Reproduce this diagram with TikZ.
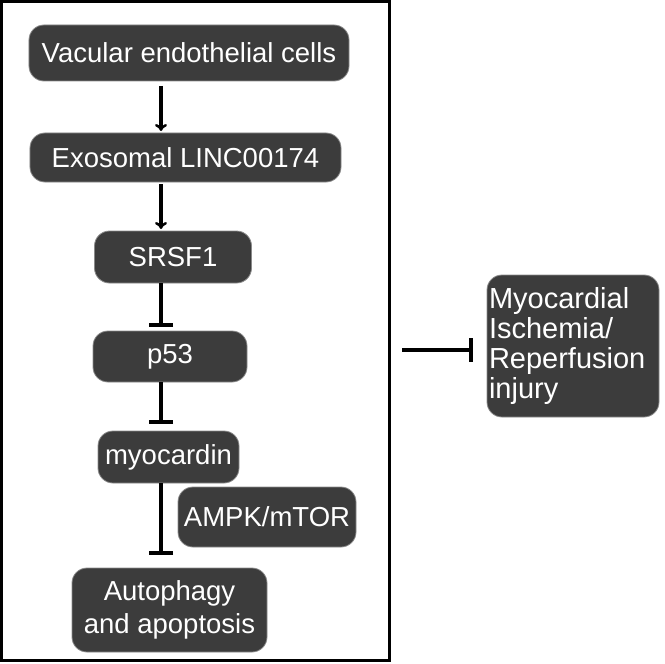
\documentclass[tikz,border=0pt]{standalone}
\usepackage{fontspec}
\setmainfont{Liberation Sans}
\usetikzlibrary{arrows.meta}
\definecolor{boxfill}{HTML}{3C3C3C}
\definecolor{boxline}{HTML}{8A8A8A}
\begin{document}
\begin{tikzpicture}[x=1bp,y=-1bp,
  pbox/.style={draw=boxline, line width=0.8bp, fill=boxfill, rounded corners=15bp,
    text=white, font=\fontsize{27.5bp}{33bp}\selectfont, inner sep=0pt, align=center},
  act/.style={line width=3.5bp, -{To[length=7bp,width=12bp,line width=2.5bp]}},
  inh/.style={line width=3.5bp, -{Bar[width=24bp,line width=4bp]}}]
\useasboundingbox (0,0) rectangle (664,664);
\draw[line width=3bp] (1.5,1.5) rectangle (389.5,660.5);
\node[pbox, minimum width=320bp, minimum height=56bp] (vec) at (189,53) {Vacular endothelial cells};
\node[pbox, minimum width=311bp, minimum height=49bp] (exo) at (185.5,157.5) {Exosomal LINC00174};
\node[pbox, minimum width=157bp, minimum height=52bp] (srsf) at (173,257) {SRSF1};
\node[pbox, minimum width=154bp, minimum height=51bp] (p53) at (170,356.5) {p53};
\node[pbox, minimum width=141bp, minimum height=52bp] (myo) at (168.5,457) {myocardin};
\node[pbox, minimum width=178bp, minimum height=60bp] (ampk) at (267,517) {AMPK/mTOR};
\node[pbox, minimum width=195bp, minimum height=84bp] (aut) at (169.5,610) {Autophagy\\and apoptosis};
\node[pbox, minimum width=172bp, minimum height=142bp, text width=168bp, inner xsep=2bp, align=left,
  font=\fontsize{29bp}{30bp}\selectfont] (mi) at (573,346) {Myocardial\\Ischemia/\\Reperfusion\\injury};
\coordinate (mistart) at (402,350);
\draw[act] (161,86) -- (161,131);
\draw[act] (161,184) -- (161,229);
\draw[inh] (161,283) -- (161,327);
\draw[inh] (161,382) -- (161,424);
\draw[inh] (161,483) -- (161,555);
\draw[inh] (mistart) -- (473,350);
\end{tikzpicture}
\end{document}
